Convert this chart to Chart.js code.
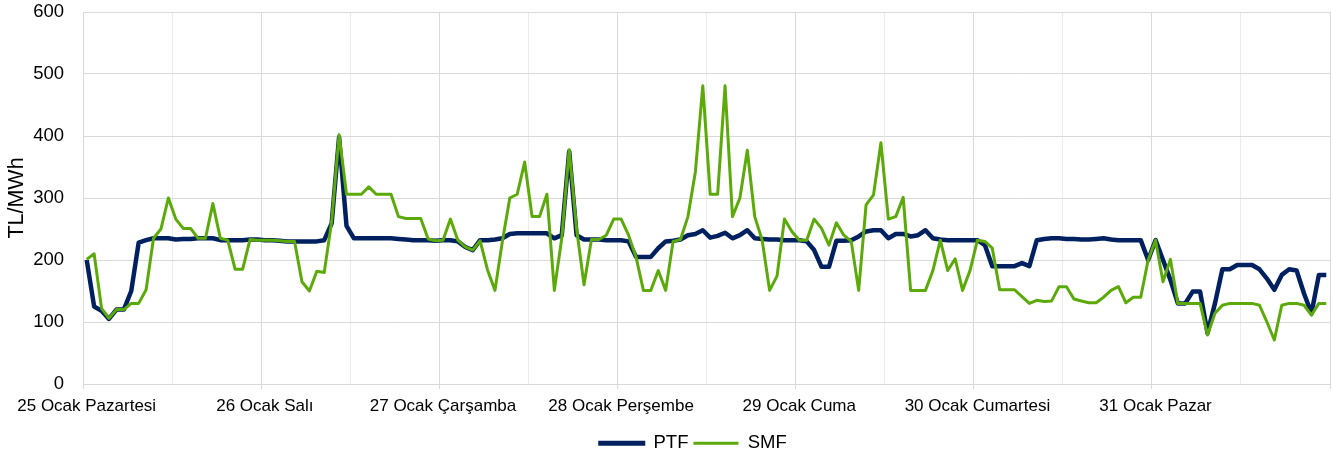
<!DOCTYPE html>
<html><head><meta charset="utf-8">
<script src="https://cdn.jsdelivr.net/npm/chart.js@4.4.0/dist/chart.umd.min.js"></script>
<style>html,body{margin:0;padding:0;background:#fff;}</style>
</head><body>
<canvas id="c" width="1331" height="457"></canvas>
<script>
// Day labels (x axis)
const dayLabels = ['25 Ocak Pazartesi','26 Ocak Salı','27 Ocak Çarşamba','28 Ocak Perşembe','29 Ocak Cuma','30 Ocak Cumartesi','31 Ocak Pazar'];
// Y tick values
const yTicks = [0,100,200,300,400,500,600];
// Hourly PTF (TL/MWh), 7 days x 24 h
const ptf = [
 200,125,118,105,120,120,150,228,232,235,235,235,233,234,234,235,235,235,232,232,232,232,233,233,
 232,232,231,230,230,230,230,230,232,259,398,255,235,235,235,235,235,235,234,233,232,232,232,231,
 232,232,230,221,216,232,232,233,235,242,243,243,243,243,243,235,240,375,240,233,233,233,232,232,
 232,230,205,205,205,219,230,231,233,240,242,248,236,239,244,235,240,248,235,234,233,233,232,232,
 232,230,216,189,189,231,231,232,238,246,248,248,235,242,242,238,240,248,235,233,232,232,232,232,
 232,224,190,190,190,190,195,190,232,234,235,235,234,234,233,233,234,235,233,232,232,232,232,200,
 232,200,168,130,130,149,149,82,130,185,185,192,192,192,185,170,152,176,185,183,146,114,176,176
];
// Hourly SMF (TL/MWh)
const smf = [
 201,210,122,106,120,120,130,130,152,235,250,300,266,251,251,235,235,291,235,232,185,185,233,232,
 232,232,231,230,230,165,150,182,180,262,402,306,306,306,318,306,306,306,270,267,267,267,234,231,
 232,266,232,221,216,231,184,151,230,300,306,358,270,270,306,151,235,378,250,160,233,233,240,266,
 266,240,205,151,151,183,151,230,233,270,342,481,306,306,481,270,300,377,270,232,151,174,266,246,
 232,232,266,251,224,260,240,230,151,289,305,389,266,270,301,151,151,151,183,232,183,202,151,183,
 232,230,219,152,152,152,141,130,135,133,134,157,157,137,134,131,131,140,151,157,131,140,140,200,
 232,165,201,130,130,130,130,79,114,127,130,130,130,130,127,100,71,127,130,130,127,111,130,130
];

const FONT = 'Liberation Sans, Arial, sans-serif';
const legendShift = {
  id: 'legendShift',
  afterLayout(chart) {
    const l = chart.legend;
    if (l) { l.left += 28; l.right += 28; l.top += 5.5; l.bottom += 5.5; }
  }
};

new Chart(document.getElementById('c'), {
  type: 'line',
  data: {
    datasets: [
      { label: 'PTF', data: ptf.map((v, i) => ({ x: i, y: v })), borderColor: '#002060', backgroundColor: '#002060',
        borderWidth: 4.5, pointRadius: 0, tension: 0, order: 1, borderJoinStyle: 'round' },
      { label: 'SMF', data: smf.map((v, i) => ({ x: i, y: v })), borderColor: '#5BAA0A', backgroundColor: '#5BAA0A',
        borderWidth: 3, pointRadius: 0, tension: 0, order: 0, borderJoinStyle: 'round' }
    ]
  },
  options: {
    responsive: false,
    animation: false,
    events: [],
    layout: { padding: { top: 12, right: 1, left: 0, bottom: 0 } },
    plugins: {
      tooltip: { enabled: false },
      legend: {
        position: 'bottom',
        labels: {
          boxWidth: 45, boxHeight: 3, padding: 5,
          font: { family: FONT, size: 18.5 }, color: '#000',
          sort: (a, b) => a.datasetIndex - b.datasetIndex,
          generateLabels: (chart) => chart.data.datasets.map((ds, i) => ({
            text: ds.label, fillStyle: ds.borderColor, strokeStyle: ds.borderColor,
            lineWidth: i === 0 ? 2 : 0, datasetIndex: i, hidden: false, fontColor: '#000'
          }))
        }
      }
    },
    scales: {
      x: {
        type: 'linear', min: -0.5, max: 167.5,
        afterBuildTicks: (s) => {
          const t = [];
          for (let k = 0; k <= 14; k++) t.push({ value: -0.5 + 12 * k });
          s.ticks = t;
        },
        afterFit: (s) => { s.height = 39.5; },
        ticks: {
          autoSkip: false, maxRotation: 0, minRotation: 0, padding: 0, labelOffset: 3.7,
          font: { family: FONT, size: 17, lineHeight: 2 }, color: '#000',
          callback: (v, i) => (i % 2 === 0 && dayLabels[i / 2]) ? dayLabels[i / 2] : ''
        },
        grid: {
          color: (c) => (c.index % 2 === 0 ? '#d9d9d9' : '#ececec'),
          tickColor: (c) => (c.index % 2 === 0 ? '#d9d9d9' : 'rgba(0,0,0,0)'),
          tickLength: 5, lineWidth: 1
        },
        border: { color: '#d9d9d9', width: 1 }
      },
      y: {
        min: 0, max: 600,
        afterBuildTicks: (s) => { s.ticks = yTicks.map(v => ({ value: v })); },
        afterFit: (s) => { s.width = 83; },
        ticks: { padding: 0, font: { family: FONT, size: 18.5 }, color: '#000' },
        grid: { color: '#d9d9d9', drawTicks: true, tickLength: 19, tickColor: 'rgba(0,0,0,0)', lineWidth: 1 },
        border: { color: '#d9d9d9', width: 1 },
        title: { display: true, text: 'TL/MWh', color: '#000', font: { family: FONT, size: 21.5 }, padding: { top: 4, bottom: 0 } }
      }
    }
  },
  plugins: [legendShift]
});
</script>
</body></html>
